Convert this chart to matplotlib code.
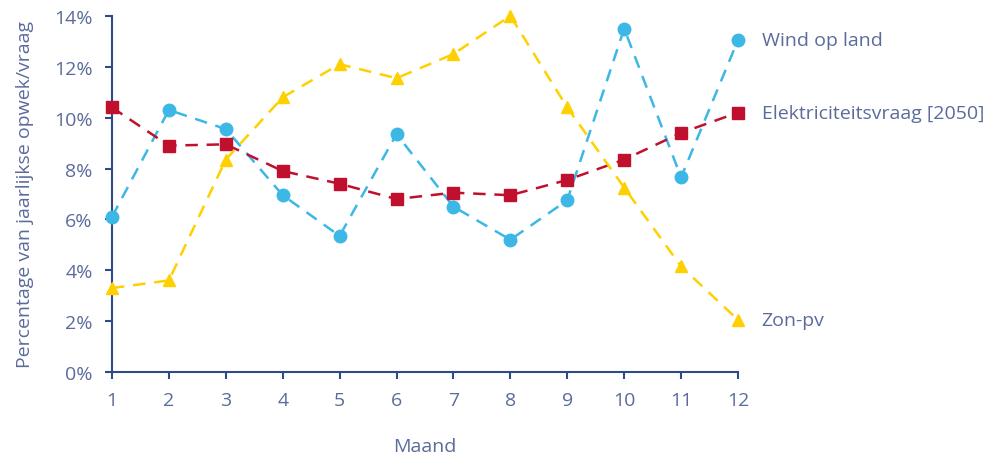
import matplotlib.pyplot as plt
from matplotlib.ticker import FuncFormatter

plt.rcParams['font.family'] = ['Open Sans', 'DejaVu Sans']

# Data
months = [1, 2, 3, 4, 5, 6, 7, 8, 9, 10, 11, 12]
wind = [6.1, 10.3, 9.55, 6.95, 5.35, 9.35, 6.5, 5.2, 6.75, 13.5, 7.65, 13.05]
demand = [10.4, 8.9, 8.95, 7.9, 7.4, 6.8, 7.05, 6.95, 7.55, 8.35, 9.4, 10.2]
sun = [3.3, 3.6, 8.35, 10.8, 12.1, 11.55, 12.5, 14.0, 10.4, 7.25, 4.15, 2.05]
series_names = ['Wind op land', 'Elektriciteitsvraag [2050]', 'Zon-pv']

text_col = '#5b6b9b'
axis_col = '#2f4a8a'

fig = plt.figure(figsize=(9.84, 4.56), dpi=100)
ax = fig.add_axes([0.1138, 0.182, 0.6362, 0.781])

series = [
    (wind, '#3cb7e6', 'o', 9),
    (demand, '#c0102e', 's', 8.5),
    (sun, '#ffd000', '^', 9),
]
for (vals, col, mk, ms), name in zip(series, series_names):
    ax.plot(months, vals, color=col, linestyle=(0, (5, 3.5)), linewidth=1.8,
            marker=mk, markersize=ms, clip_on=False, zorder=3)
    ax.annotate(name, xy=(months[-1], vals[-1]), xytext=(17, 0),
                textcoords='offset points', va='center', ha='left',
                fontsize=14, color=text_col, annotation_clip=False)

ax.set_xlim(1, 12)
ax.set_ylim(0, 14)
ax.set_xticks(months)
ax.set_yticks(range(0, 15, 2))
ax.yaxis.set_major_formatter(FuncFormatter(lambda v, p: f'{v:.0f}%'))

for s in ['top', 'right']:
    ax.spines[s].set_visible(False)
for s in ['left', 'bottom']:
    ax.spines[s].set_color(axis_col)
    ax.spines[s].set_linewidth(1.5)
ax.tick_params(axis='both', direction='out', length=5, width=1.5, color=axis_col,
               labelcolor=text_col, labelsize=14)
ax.tick_params(axis='x', pad=9)
ax.tick_params(axis='y', pad=9)

ax.set_xlabel('Maand', fontsize=14, color=text_col, labelpad=20)
ax.set_ylabel('Percentage van jaarlijkse opwek/vraag', fontsize=14, color=text_col, labelpad=14)

fig.savefig('out.png', dpi=100)
